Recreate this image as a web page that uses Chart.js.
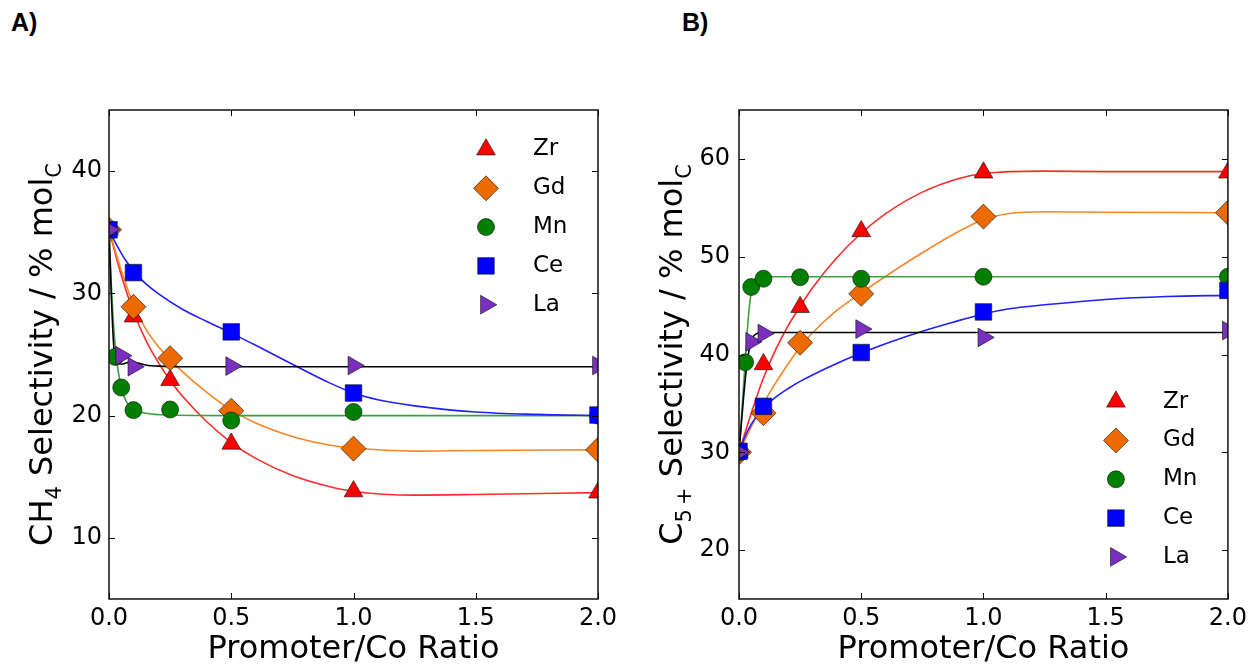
<!DOCTYPE html>
<html><head><meta charset="utf-8">
<script src="https://cdn.jsdelivr.net/npm/chart.js@4.4.1/dist/chart.umd.min.js"></script>
<style>
html,body{margin:0;padding:0;background:#fff;}
#wrap{position:relative;width:1252px;height:667px;overflow:hidden;background:#fff;}
canvas{position:absolute;top:0;}
.lbl{position:absolute;top:10px;font:bold 25px "Liberation Sans",Arial,sans-serif;line-height:25px;color:#000;}
</style></head><body>
<div id="wrap">
<div class="lbl" style="left:11px">A)</div>
<div class="lbl" style="left:682px">B)</div>
<canvas id="cA" width="626" height="667" style="left:0"></canvas>
<canvas id="cB" width="626" height="667" style="left:626px"></canvas>
</div>
<script>
// ---------- shared axis data ----------
const xTicks = [0, 0.5, 1.0, 1.5, 2.0];
const xTickLabels = ['0.0', '0.5', '1.0', '1.5', '2.0'];
const xTitle = 'Promoter/Co Ratio';
const promoters = ['Zr', 'Gd', 'Mn', 'Ce', 'La'];

// ---------- Panel A: CH4 selectivity ----------
const aYTicks = [10, 20, 30, 40];
const aYTitle = [['CH', false], ['4', true], [' Selectivity / % mol', false], ['C', true]];
const aZrX = [0, 0.1, 0.25, 0.5, 1.0, 2.0];
const aZrY = [35.2, 28.1, 22.9, 17.7, 13.8, 13.7];
const aGdX = [0, 0.1, 0.25, 0.5, 1.0, 2.0];
const aGdY = [35.2, 28.9, 24.7, 20.4, 17.3, 17.2];
const aMnX = [0, 0.025, 0.05, 0.1, 0.25, 0.5, 1.0, 2.0];
const aMnY = [35.2, 24.8, 22.3, 20.45, 20.5, 19.6, 20.3, 20.0];
const aCeX = [0, 0.1, 0.5, 1.0, 2.0];
const aCeY = [35.2, 31.7, 26.85, 21.85, 20.05];
const aLaX = [0, 0.05, 0.1, 0.5, 1.0, 2.0];
const aLaY = [35.2, 24.9, 24.0, 24.05, 24.1, 24.1];
// fitted curves
const aZrFitX = [0, 0.05, 0.1, 0.15, 0.2, 0.25, 0.3, 0.4, 0.5, 0.6, 0.75, 0.9, 1.0, 1.25, 1.5, 2.0];
const aZrFitY = [35.2, 31.5, 28.5, 26.2, 24.4, 22.9, 21.6, 19.5, 17.8, 16.5, 15.1, 14.2, 13.8, 13.5, 13.55, 13.7];
const aGdFitX = [0, 0.05, 0.1, 0.15, 0.2, 0.25, 0.3, 0.4, 0.5, 0.6, 0.75, 0.9, 1.0, 1.25, 1.5, 2.0];
const aGdFitY = [35.2, 31.9, 29.1, 27.1, 25.7, 24.6, 23.6, 21.9, 20.45, 19.4, 18.3, 17.6, 17.35, 17.1, 17.15, 17.2];
const aMnFitX = [0, 0.01, 0.02, 0.03, 0.05, 0.075, 0.1, 0.15, 0.25, 0.5, 1.0, 2.0];
const aMnFitY = [35.2, 30.5, 27.0, 24.8, 22.3, 21.0, 20.5, 20.2, 20.05, 20.0, 20.0, 20.0];
const aCeFitX = [0, 0.025, 0.05, 0.075, 0.1, 0.15, 0.2, 0.3, 0.4, 0.5, 0.6, 0.75, 0.9, 1.0, 1.1, 1.25, 1.5, 1.75, 2.0];
const aCeFitY = [35.2, 34.2, 33.3, 32.5, 31.8, 30.8, 30.0, 28.7, 27.7, 26.75, 25.75, 24.2, 22.7, 21.85, 21.3, 20.8, 20.3, 20.1, 20.0];
const aLaFitX = [0, 0.01, 0.02, 0.03, 0.05, 0.07, 0.09, 0.12, 0.16, 0.2, 0.3, 2.0];
const aLaFitY = [35.2, 29.5, 25.5, 24.4, 24.2, 24.3, 24.4, 24.3, 24.1, 24.05, 24.0, 24.0];

// ---------- Panel B: C5+ selectivity ----------
const bYTicks = [20, 30, 40, 50, 60];
const bYTitle = [['C', false], ['5\u2009+', true], [' Selectivity / % mol', false], ['C', true]];
const bZrX = [0, 0.1, 0.25, 0.5, 1.0, 2.0];
const bZrY = [30.0, 39.0, 44.85, 52.6, 58.6, 58.6];
const bGdX = [0, 0.1, 0.25, 0.5, 1.0, 2.0];
const bGdY = [30.0, 34.0, 41.2, 46.2, 54.1, 54.5];
const bMnX = [0, 0.025, 0.05, 0.1, 0.25, 0.5, 1.0, 2.0];
const bMnY = [30.0, 39.2, 46.9, 47.75, 47.9, 47.75, 47.95, 47.95];
const bCeX = [0, 0.1, 0.5, 1.0, 2.0];
const bCeY = [30.1, 34.7, 40.2, 44.35, 46.55];
const bLaX = [0, 0.05, 0.1, 0.5, 1.0, 2.0];
const bLaY = [30.0, 41.3, 42.15, 42.6, 41.75, 42.45];
const bZrFitX = [0, 0.05, 0.1, 0.15, 0.2, 0.25, 0.3, 0.4, 0.5, 0.6, 0.75, 0.9, 1.0, 1.25, 1.5, 2.0];
const bZrFitY = [30.0, 34.0, 37.6, 40.5, 42.9, 44.9, 46.8, 49.9, 52.4, 54.4, 56.6, 58.0, 58.5, 58.75, 58.7, 58.7];
const bGdFitX = [0, 0.05, 0.1, 0.15, 0.2, 0.25, 0.3, 0.4, 0.5, 0.6, 0.75, 0.9, 1.0, 1.1, 1.25, 1.5, 2.0];
const bGdFitY = [30.0, 32.6, 35.0, 37.1, 39.0, 40.8, 42.2, 44.5, 46.3, 48.0, 50.4, 52.6, 53.8, 54.4, 54.6, 54.55, 54.5];
const bMnFitX = [0, 0.01, 0.02, 0.03, 0.04, 0.05, 0.065, 0.1, 0.15, 0.5, 1.0, 2.0];
const bMnFitY = [30.0, 33.5, 37.3, 41.0, 44.3, 46.3, 47.5, 47.9, 47.95, 47.95, 47.95, 47.95];
const bCeFitX = [0, 0.025, 0.05, 0.075, 0.1, 0.15, 0.2, 0.25, 0.375, 0.5, 0.625, 0.75, 0.875, 1.0, 1.1, 1.25, 1.5, 1.75, 2.0];
const bCeFitY = [30.0, 31.65, 32.85, 33.8, 34.55, 35.65, 36.5, 37.25, 38.8, 40.15, 41.33, 42.38, 43.3, 44.15, 44.65, 45.08, 45.63, 45.93, 46.05];
const bLaFitX = [0, 0.01, 0.02, 0.03, 0.04, 0.05, 0.06, 0.08, 0.1, 0.2, 2.0];
const bLaFitY = [30.0, 33.0, 36.0, 38.5, 40.3, 41.3, 41.9, 42.2, 42.25, 42.25, 42.25];

// ---------- styles ----------
const styles = {
  Zr: { ps: 'triangle', rot: 0, r: 10.8, fill: '#ff0000', line: '#ff2b2b' },
  Gd: { ps: 'rectRot', rot: 0, r: 12.5, fill: '#ec6a00', line: '#f7862a' },
  Mn: { ps: 'circle', rot: 0, r: 8.5, fill: '#007f00', line: '#3f9f3f' },
  Ce: { ps: 'rect', rot: 0, r: 11.7, fill: '#0000ff', line: '#1f1fff' },
  La: { ps: 'triangle', rot: 90, r: 10.8, fill: '#7b2fc0', line: '#000000' }
};
const MARK_EDGE = 'rgba(20,20,20,0.8)';
const FONT = '"DejaVu Sans", sans-serif';
Chart.defaults.font.family = FONT;
Chart.defaults.color = '#000';

const panels = {
  cA: {
    yMin: 5, yMax: 45, yTicks: aYTicks, yTitle: aYTitle, yTitleX: 52, yAxisW: 109, padRight: 28, yPad: 7,
    legendX: 112, legendTextX: 65, legendTop: true, legendY0: 39.5,
    series: [
      ['Zr', aZrX, aZrY, aZrFitX, aZrFitY], ['Gd', aGdX, aGdY, aGdFitX, aGdFitY],
      ['Mn', aMnX, aMnY, aMnFitX, aMnFitY], ['Ce', aCeX, aCeY, aCeFitX, aCeFitY],
      ['La', aLaX, aLaY, aLaFitX, aLaFitY]
    ]
  },
  cB: {
    yMin: 15, yMax: 65, yTicks: bYTicks, yTitle: bYTitle, yTitleX: 682 - 626, yAxisW: 113, padRight: 24, yPad: 9,
    legendX: 112, legendTextX: 65, legendTop: false, legendY0: 197.3,
    series: [
      ['Zr', bZrX, bZrY, bZrFitX, bZrFitY], ['Gd', bGdX, bGdY, bGdFitX, bGdFitY],
      ['Mn', bMnX, bMnY, bMnFitX, bMnFitY], ['Ce', bCeX, bCeY, bCeFitX, bCeFitY],
      ['La', bLaX, bLaY, bLaFitX, bLaFitY]
    ]
  }
};

function drawMarker(ctx, st, x, y) {
  ctx.fillStyle = st.fill;
  ctx.strokeStyle = MARK_EDGE;
  ctx.lineWidth = 0.8;
  Chart.helpers.drawPoint(ctx, { pointStyle: st.ps, rotation: st.rot, radius: st.r, borderWidth: 0.8 }, x, y);
}

const deco = {
  id: 'deco',
  afterDraw(chart) {
    const cfg = panels[chart.canvas.id];
    const { ctx, chartArea: a } = chart;
    const xs = chart.scales.x, ys = chart.scales.y;
    ctx.save();
    // inward ticks on all four sides
    ctx.strokeStyle = '#000';
    ctx.lineWidth = 1;
    const L = 6;
    ctx.beginPath();
    xTicks.forEach(v => {
      const p = Math.round(xs.getPixelForValue(v)) + 0.5;
      ctx.moveTo(p, a.bottom); ctx.lineTo(p, a.bottom - L);
      ctx.moveTo(p, a.top); ctx.lineTo(p, a.top + L);
    });
    cfg.yTicks.forEach(v => {
      const p = Math.round(ys.getPixelForValue(v)) + 0.5;
      ctx.moveTo(a.left, p); ctx.lineTo(a.left + L, p);
      ctx.moveTo(a.right, p); ctx.lineTo(a.right - L, p);
    });
    ctx.stroke();
    // frame
    ctx.lineWidth = 1.5;
    ctx.strokeStyle = '#111';
    ctx.strokeRect(a.left, a.top, a.right - a.left, a.bottom - a.top);
    // legend (from marker datasets)
    const rowH = 38.8;
    const y0 = cfg.legendTop ? a.top + cfg.legendY0 : a.bottom - cfg.legendY0;
    const markerDs = chart.data.datasets.filter(d => d.isMarker);
    markerDs.forEach((d, i) => {
      const st = styles[d.label];
      const yy = y0 + i * rowH;
      drawMarker(ctx, st, a.right - cfg.legendX, yy);
      ctx.fillStyle = '#000';
      ctx.font = '23px ' + FONT;
      ctx.textAlign = 'left';
      ctx.textBaseline = 'middle';
      ctx.fillText(d.label, a.right - cfg.legendTextX, yy);
    });
    // rotated y-axis title with subscripts
    const MAIN = '32px ' + FONT, SUB = '21px ' + FONT;
    ctx.translate(cfg.yTitleX, (a.top + a.bottom) / 2);
    ctx.rotate(-Math.PI / 2);
    ctx.fillStyle = '#000';
    ctx.textBaseline = 'alphabetic';
    ctx.textAlign = 'left';
    const widths = cfg.yTitle.map(s => { ctx.font = s[1] ? SUB : MAIN; return ctx.measureText(s[0]).width; });
    let x = -widths.reduce((p, c) => p + c, 0) / 2;
    cfg.yTitle.forEach((s, i) => {
      ctx.font = s[1] ? SUB : MAIN;
      ctx.fillText(s[0], x, s[1] ? 9 : 0);
      x += widths[i];
    });
    ctx.restore();
  }
};

function build(id) {
  const cfg = panels[id];
  const ds = [];
  cfg.series.forEach((s, i) => {
    const st = styles[s[0]];
    ds.push({
      type: 'line', label: s[0] + ' fit', isMarker: false,
      data: s[3].map((v, k) => ({ x: v, y: s[4][k] })),
      borderColor: st.line, borderWidth: 1.6, pointRadius: 0, pointHitRadius: 0,
      cubicInterpolationMode: 'monotone', fill: false, clip: 0, order: 30 - i
    });
    ds.push({
      type: 'scatter', label: s[0], isMarker: true,
      data: s[1].map((v, k) => ({ x: v, y: s[2][k] })),
      pointStyle: st.ps, pointRotation: st.rot, pointRadius: st.r,
      pointBackgroundColor: st.fill, backgroundColor: st.fill,
      pointBorderColor: MARK_EDGE, borderColor: MARK_EDGE, pointBorderWidth: 0.8,
      showLine: false, clip: 0, order: 20 - i
    });
  });
  return new Chart(document.getElementById(id), {
    type: 'scatter',
    data: { datasets: ds },
    options: {
      responsive: false, animation: false, events: [],
      layout: { padding: { top: 110, right: cfg.padRight, bottom: 0, left: 0 } },
      plugins: { legend: { display: false }, tooltip: { enabled: false } },
      scales: {
        x: {
          type: 'linear', min: 0, max: 2,
          afterBuildTicks: s => { s.ticks = xTicks.map(v => ({ value: v })); },
          afterFit: s => { s.height = 68; },
          ticks: { autoSkip: false, maxRotation: 0, padding: 5, font: { size: 24 }, color: '#000',
                   callback: (v, i) => xTickLabels[i] },
          grid: { display: false, drawTicks: false },
          border: { display: false },
          title: { display: true, text: xTitle, color: '#000', font: { size: 32, lineHeight: 1 }, padding: { top: 0, bottom: 1 } }
        },
        y: {
          type: 'linear', min: cfg.yMin, max: cfg.yMax,
          afterBuildTicks: s => { s.ticks = cfg.yTicks.map(v => ({ value: v })); },
          afterFit: s => { s.width = cfg.yAxisW; },
          ticks: { padding: cfg.yPad, font: { size: 24 }, color: '#000', callback: v => String(v) },
          grid: { display: false, drawTicks: false },
          border: { display: false }
        }
      }
    },
    plugins: [deco]
  });
}
build('cA');
build('cB');
</script>
</body></html>
